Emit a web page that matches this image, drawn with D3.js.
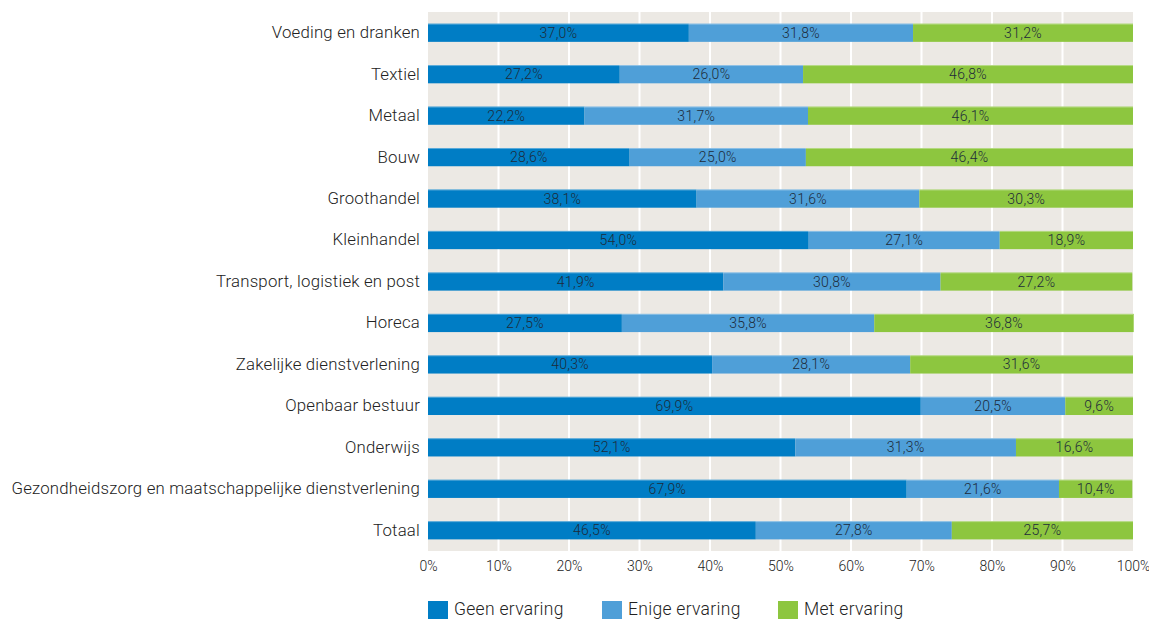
<!DOCTYPE html>
<html><head><meta charset="utf-8">
<script src="https://cdn.jsdelivr.net/npm/d3@7"></script>
<style>body{margin:0;background:#fff;}svg{display:block;font-family:Roboto,"DejaVu Sans",sans-serif;}</style>
</head><body><svg id="c" width="1149" height="619"></svg>
<script>
const categories = ["Voeding en dranken","Textiel","Metaal","Bouw","Groothandel","Kleinhandel","Transport, logistiek en post","Horeca","Zakelijke dienstverlening","Openbaar bestuur","Onderwijs","Gezondheidszorg en maatschappelijke dienstverlening","Totaal"];
const geen = [37.0,27.2,22.2,28.6,38.1,54.0,41.9,27.5,40.3,69.9,52.1,67.9,46.5];
const enige = [31.8,26.0,31.7,25.0,31.6,27.1,30.8,35.8,28.1,20.5,31.3,21.6,27.8];
const met = [31.2,46.8,46.1,46.4,30.3,18.9,27.2,36.8,31.6,9.6,16.6,10.4,25.7];
const seriesNames = ["Geen ervaring","Enige ervaring","Met ervaring"];
const colors = ["#007DC5","#4F9FD8","#8DC63F"];
const ticks = [0,10,20,30,40,50,60,70,80,90,100];

const svg = d3.select("#c");
const L = 428, R = 1133, T = 12, B = 551;
const x = d3.scaleLinear().domain([0,100]).range([L,R]);
const y = d3.scaleBand().domain(categories).range([T,B]).paddingInner(0.56).paddingOuter(0.28);

svg.append("rect").attr("x",L).attr("y",T).attr("width",R-L).attr("height",B-T).attr("fill","#ECE9E4");
svg.append("g").selectAll("line").data(ticks.slice(1,-1)).join("line")
  .attr("x1",d=>x(d)).attr("x2",d=>x(d)).attr("y1",T).attr("y2",B)
  .attr("stroke","#fff").attr("stroke-width",2);

const rows = categories.map((c,i)=>({c, v:[geen[i],enige[i],met[i]]}));
const g = svg.append("g");
rows.forEach(r=>{
  let acc = 0;
  r.v.forEach((v,j)=>{
    const x0 = x(acc), x1 = x(acc+v);
    g.append("rect").attr("x",x0).attr("y",y(r.c)).attr("width",x1-x0).attr("height",y.bandwidth())
      .attr("fill",colors[j]);
    g.append("text").attr("x",(x0+x1)/2).attr("y",y(r.c)+y.bandwidth()/2)
      .attr("dy","0.36em").attr("text-anchor","middle").attr("font-size",14).attr("font-weight",300)
      .attr("letter-spacing",0.3).attr("fill","#1d2b3a").text(d3.format(".1f")(v).replace(".",",")+"%");
    acc += v;
  });
  g.append("line").attr("x1",x(0)).attr("x2",x(100)).attr("y1",y(r.c)+0.5).attr("y2",y(r.c)+0.5)
    .attr("stroke","#ffffff").attr("stroke-opacity",0.35).attr("stroke-width",1);
});

// y axis labels
const yAxis = d3.axisLeft(y).tickSize(0).tickPadding(8);
const ya = svg.append("g").attr("transform",`translate(${L},0)`).call(yAxis);
ya.select(".domain").remove();
ya.selectAll("text").attr("font-size",16.8).attr("letter-spacing",0.2).attr("fill","#222").attr("font-family","Roboto,sans-serif").attr("font-weight",300);

// x axis
const xAxis = d3.axisBottom(x).tickValues(ticks).tickSize(0).tickPadding(10).tickFormat(d=>d+"%");
const xa = svg.append("g").attr("transform",`translate(0,${B})`).call(xAxis);
xa.select(".domain").remove();
xa.selectAll("text").attr("font-size",14).attr("fill","#222").attr("font-family","Roboto,sans-serif").attr("font-weight",300);

// legend
const legX = [428,602,778];
const lg = svg.append("g");
seriesNames.forEach((n,i)=>{
  lg.append("rect").attr("x",legX[i]).attr("y",601).attr("width",20).attr("height",20).attr("fill",colors[i]);
  lg.append("text").attr("x",legX[i]+26).attr("y",615).attr("font-size",17.5).attr("font-weight",300)
    .attr("letter-spacing",0.3).attr("fill","#222").text(n);
});
</script></body></html>
